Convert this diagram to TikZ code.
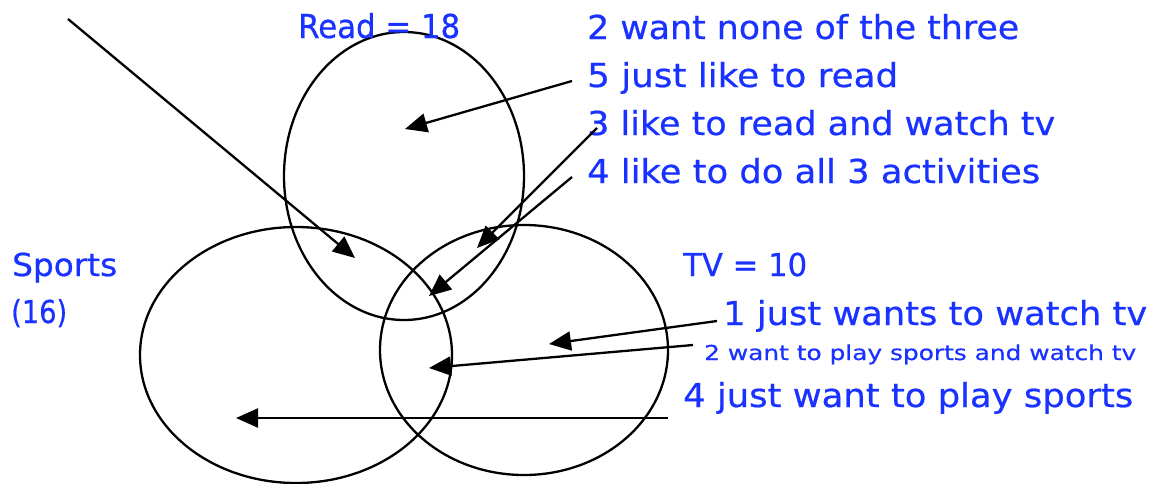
\documentclass[tikz,border=0pt]{standalone}
\usepackage{fontspec}
\setmainfont{DejaVu Sans}
\newfontfamily\lblfont{DejaVu Sans}[FakeBold=0.6]
\usetikzlibrary{arrows.meta}
\definecolor{lblue}{RGB}{25,50,255}
% text fitted to a given width (#1) and cap height (#2)
\newcommand{\fitwh}[3]{\resizebox{#1pt}{#2pt}{\vphantom{H}\smash{#3}}}
\begin{document}
\begin{tikzpicture}[x=1pt,y=-1pt,
  lbl/.style={text=lblue, anchor=base west, inner sep=0pt, font=\lblfont\fontsize{30}{30}\selectfont},
  ring/.style={draw=black, line width=2.3pt},
  ptr/.style={draw=black, line width=2.3pt, -{Triangle[length=22pt,width=19pt]}}]
\useasboundingbox (0,0) rectangle (1154,483);
% circles
\draw[ring] (404,176) ellipse [x radius=120, y radius=144];
\draw[ring] (296,355) ellipse [x radius=156, y radius=128];
\draw[ring] (524,350) ellipse [x radius=144, y radius=125];
% labels
\node[lbl] (read) at (298,38) {\fitwh{162}{24}{Read = 18}};
\node[lbl] (none) at (587,39) {\fitwh{432}{24}{2 want none of the three}};
\node[lbl] (jread) at (587,87) {\fitwh{311}{24}{5 just like to read}};
\node[lbl] (rtv) at (587,135) {\fitwh{468}{24}{3 like to read and watch tv}};
\node[lbl] (all) at (587,183) {\fitwh{453}{24}{4 like to do all 3 activities}};
\node[lbl] (sports) at (12,276) {\fitwh{105}{23}{Sports}};
\node[lbl] (sixteen) at (11,323) {\fitwh{56}{23}{(16)}};
\node[lbl] (tv) at (683,276) {\fitwh{124}{23}{TV = 10}};
\node[lbl] (jtv) at (723,325) {\fitwh{424}{24}{1 just wants to watch tv}};
\node[lbl] (stv) at (704,360) {\fitwh{432}{15}{2 want to play sports and watch tv}};
\node[lbl] (jsp) at (683,407) {\fitwh{450}{24}{4 just want to play sports}};
% arrow anchors
\coordinate (s1) at (68,19);    \coordinate (t1) at (355,258);
\coordinate (s2) at (572,81);   \coordinate (t2) at (405,129);
\coordinate (s3) at (597,128);  \coordinate (t3) at (477,248);
\coordinate (s4) at (572,177);  \coordinate (t4) at (429,296);
\coordinate (s5) at (717,321);  \coordinate (t5) at (549,344);
\coordinate (s6) at (693,345);  \coordinate (t6) at (429,368);
\coordinate (s7) at (668,418);  \coordinate (t7) at (236,418);
\draw[ptr] (s1) -- (t1);
\draw[ptr] (s2) -- (t2);
\draw[ptr] (s3) -- (t3);
\draw[ptr] (s4) -- (t4);
\draw[ptr] (s5) -- (t5);
\draw[ptr] (s6) -- (t6);
\draw[ptr] (s7) -- (t7);
\end{tikzpicture}
\end{document}
